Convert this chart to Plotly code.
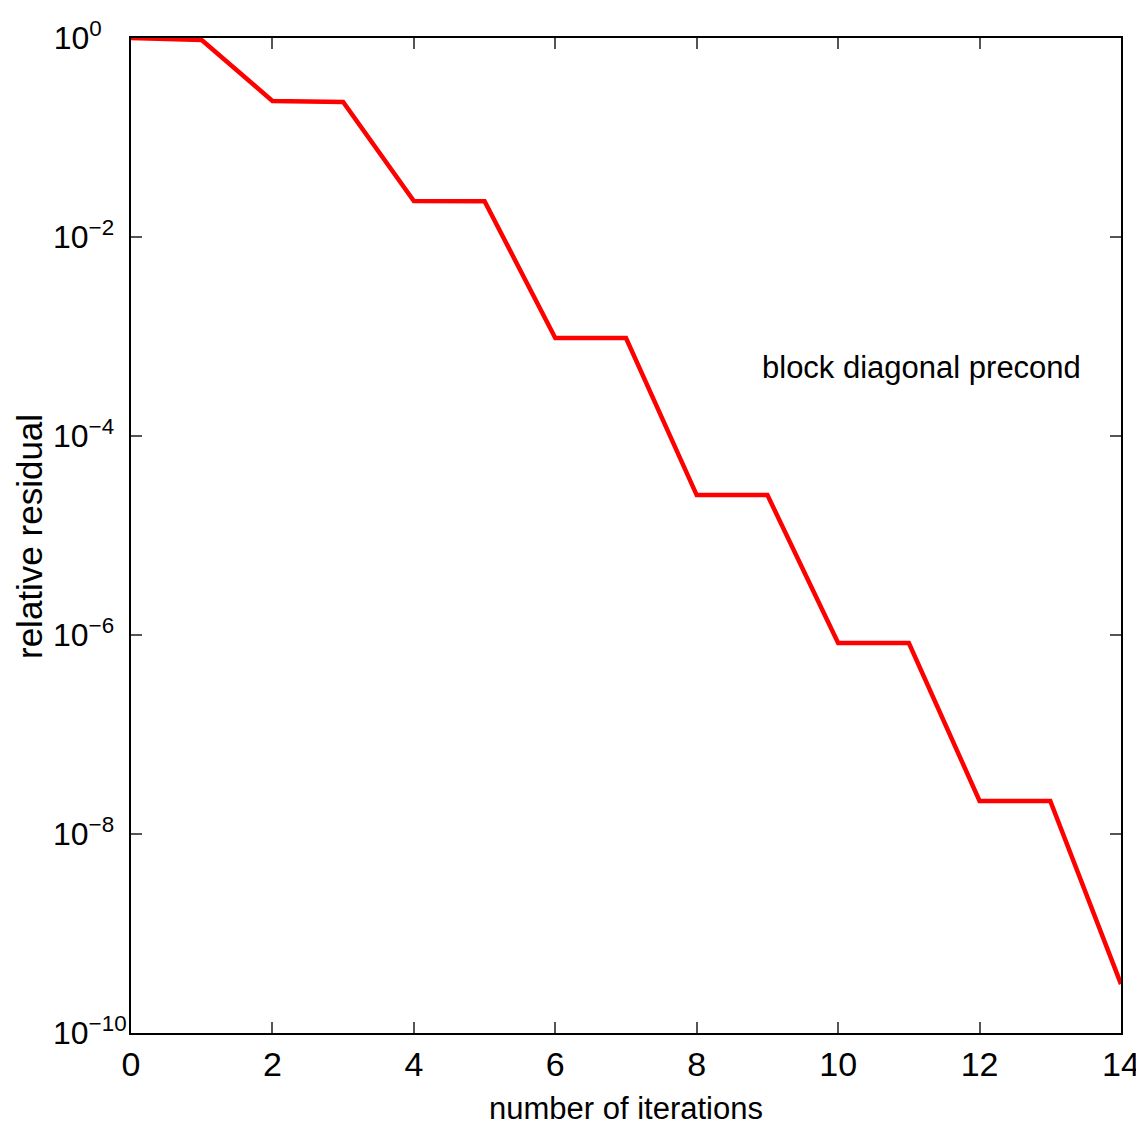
import plotly.graph_objects as go

iterations = list(range(15))
residual = [1.0, 0.955, 0.233, 0.228, 0.0230, 0.0229, 0.000966, 0.000966,
            2.55e-05, 2.55e-05, 8.3e-07, 8.3e-07, 2.15e-08, 2.15e-08, 3.1e-10]

y_tick_vals = [1e0, 1e-2, 1e-4, 1e-6, 1e-8, 1e-10]
y_tick_text = ["10<sup>0\u00a0\u00a0\u00a0\u00a0</sup>", "10<sup>−2\u00a0\u00a0</sup>",
               "10<sup>−4\u00a0\u00a0</sup>", "10<sup>−6\u00a0\u00a0</sup>",
               "10<sup>−8\u00a0\u00a0</sup>", "10<sup>−10</sup>"]
x_tick_vals = [0, 2, 4, 6, 8, 10, 12, 14]

font_family = "Liberation Sans, Arial, sans-serif"

fig = go.Figure()
fig.add_trace(go.Scatter(x=iterations, y=residual, mode="lines",
                         line=dict(color="#ff0000", width=4.5),
                         showlegend=False))

fig.add_annotation(x=0.962, y=-3.31, xref="paper", yref="y",
                   text="block diagonal precond", showarrow=False,
                   xanchor="right", yanchor="middle",
                   font=dict(family=font_family, size=31, color="black"))

# axis titles placed as annotations for precise positioning
fig.add_annotation(x=-0.102, y=0.4985, xref="paper", yref="paper",
                   text="relative residual", showarrow=False, textangle=-90,
                   xanchor="center", yanchor="middle",
                   font=dict(family=font_family, size=35, color="black"))
fig.add_annotation(x=0.5, y=-0.0754, xref="paper", yref="paper",
                   text="number of iterations", showarrow=False,
                   xanchor="center", yanchor="middle",
                   font=dict(family=font_family, size=31, color="black"))

fig.update_layout(
    width=1136, height=1119,
    margin=dict(l=123, r=23, t=30, b=94, autoexpand=False),
    paper_bgcolor="white", plot_bgcolor="white",
    font=dict(family=font_family, color="black"),
)
fig.update_xaxes(range=[0, 14], tickvals=x_tick_vals,
                 ticks="inside", ticklen=11, tickwidth=1.5, tickcolor="#555555",
                 showline=True, linecolor="black", linewidth=2, mirror="ticks",
                 showgrid=False, zeroline=False, automargin=False,
                 tickfont=dict(family=font_family, size=34))
fig.update_yaxes(type="log", range=[-10, 0], tickvals=y_tick_vals, ticktext=y_tick_text,
                 ticks="inside", ticklen=11, tickwidth=1.5, tickcolor="#555555",
                 showline=True, linecolor="black", linewidth=2, mirror="ticks",
                 showgrid=False, zeroline=False, automargin=False,
                 ticklabelstandoff=-4,
                 tickfont=dict(family=font_family, size=32))

fig.write_html("out.html")
